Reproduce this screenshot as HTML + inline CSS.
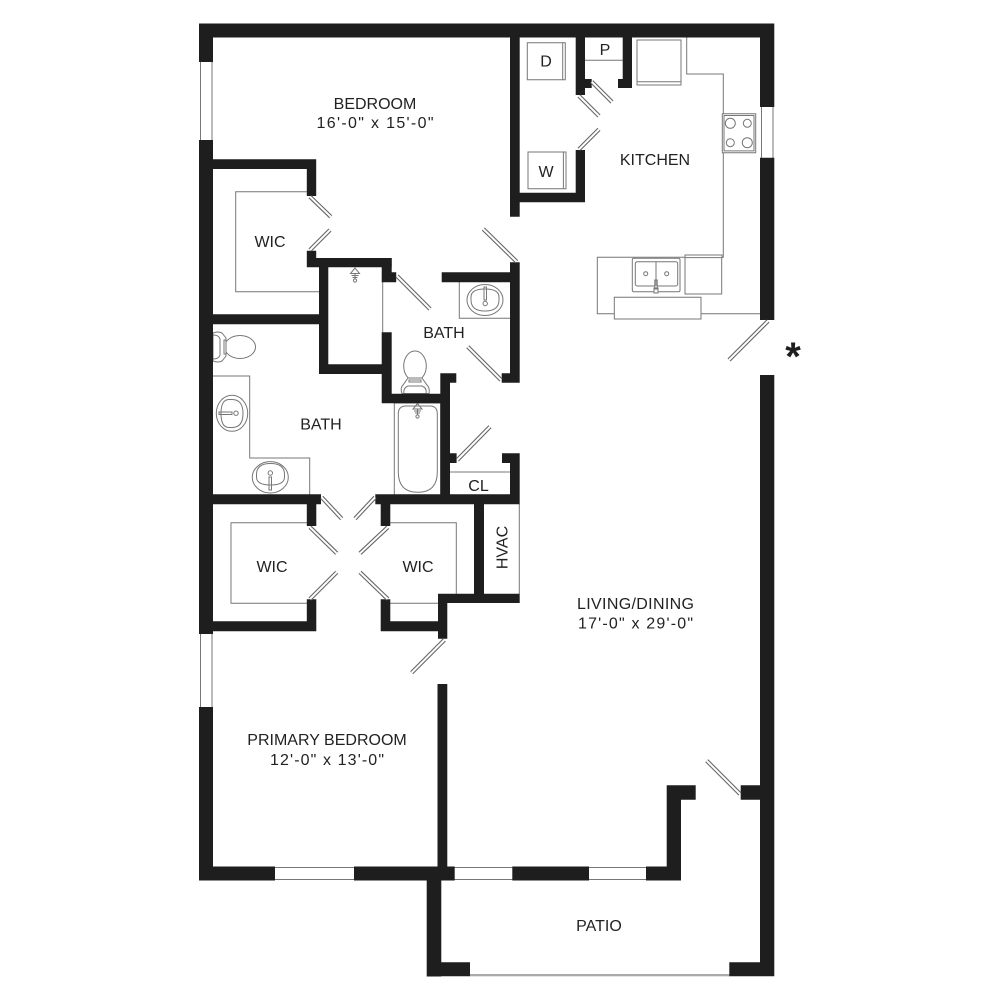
<!DOCTYPE html>
<html>
<head>
<meta charset="utf-8">
<style>
html,body{margin:0;padding:0;background:#fff}
svg{display:block}
text{font-family:"Liberation Sans",sans-serif;font-size:16px;fill:#222;text-anchor:middle}
.g{fill:none;stroke:#777;stroke-width:1}
.f{fill:#fff;stroke:#777;stroke-width:1}
</style>
</head>
<body>
<svg width="1000" height="1000" viewBox="0 0 1000 1000" xmlns="http://www.w3.org/2000/svg">
<defs>
<path id="doors" fill="none" d="M591.7 81.7L612 102M579 96L599 116M599 129.3L579 149.3M768 321L729 360M483.3 229L516.7 261.7M310 196.7L330.7 216.7M330 230L310 250M397 276L430 309M467.7 346.7L501 380M490 426.7L457.3 460M321.7 497.3L341.7 518.7M375 497.3L355 518.7M310 527.3L336.7 553.3M387.7 527.3L360 553.3M336.7 572.3L310 599M360 572.3L387.7 599M444.3 640L411.7 672.7M706.7 760.7L740 794"/>
</defs>
<rect width="1000" height="1000" fill="#fff"/>

<path class="g" d="M686.7 37V74H723.3V257.3H597.3V313.7H614.3M701 313.7H760M585 60.3H622.7M307 191.7H235.7V291.7H319M382.7 282V332.3M459.3 282V318.3H510M213 376H249.7V458H309.7V495M450 472H510M307 522.7H231V603.3H307M390.3 522.7H456.3V593.7M390 603.3H438M519.3 504V594M394.3 403H440.7V495H394.3ZM398.3 414Q398.3 406 406 406H430Q437.3 406 437.3 414V472Q437.3 492.3 417.8 492.3Q398.3 492.3 398.3 472Z"/>

<path class="f" d="M637 40H681V85H637ZM637 81.7H681M527.3 42.7H565.3V79.7H527.3ZM562.7 42.7V79.7M528 152H566V188.7H528ZM563.4 152V188.7M722.3 113.7H755.7V152.7H722.3ZM724 115.5H754V150.9H724ZM614.3 297.3H701V319H614.3ZM685 255H722V257.6H685ZM685 257.6H721.7V294H685Z"/>
<circle class="f" cx="730.3" cy="123.3" r="5"/>
<circle class="f" cx="747.3" cy="123.3" r="4"/>
<circle class="f" cx="730.3" cy="142.7" r="4"/>
<circle class="f" cx="747.3" cy="142.7" r="5"/>
<rect class="f" x="632.3" y="258.3" width="47.7" height="33.4" rx="1.5"/>
<rect class="f" x="635.3" y="261.7" width="42.4" height="24.3" rx="2"/>
<circle class="f" cx="645.7" cy="273.7" r="2"/>
<circle class="f" cx="666.7" cy="273.7" r="2"/>
<path class="f" d="M656 261.7V286M654.8 280H657.2V289H654.8ZM654 288H658V293H654Z"/>

<path class="g" d="M355 268L350.5 273.5H359.5ZM351.5 275.5H358.5M352.5 277.5H357.5M355 273.5V279.5M417.5 403.5L413 409H422ZM414 411H421M415 413H420M417.5 409V415"/>
<circle class="g" cx="355" cy="280.5" r="1.6"/>
<circle class="g" cx="417.5" cy="416.5" r="1.6"/>

<ellipse class="f" cx="485" cy="300" rx="18" ry="15.5"/>
<path class="g" d="M471 297Q471 289 485 289Q499 289 499 297V300Q499 311 485 311Q471 311 471 300ZM484 287H486.5V300H484Z"/>
<circle class="f" cx="485.2" cy="303.5" r="2.2"/>

<ellipse class="f" cx="232" cy="413.3" rx="15.7" ry="18"/>
<path class="g" d="M229 399.5Q221 399.5 221 413.5Q221 427.5 229 427.5H232Q243 427.5 243 413.5Q243 399.5 232 399.5ZM219 412H232V414.5H219Z"/>
<circle class="f" cx="236" cy="413.2" r="2.2"/>

<ellipse class="f" cx="270.3" cy="477.3" rx="18" ry="15.7"/>
<path class="g" d="M256.5 474.5Q256.5 463.5 270.5 463.5Q284.5 463.5 284.5 474.5V477Q284.5 485 270.5 485Q256.5 485 256.5 477ZM269 477H271.5V490H269Z"/>
<circle class="f" cx="270.3" cy="473" r="2.2"/>

<ellipse class="f" cx="415" cy="366" rx="11.3" ry="15"/>
<path class="f" d="M402 393.5Q400 388 403 385L408 378H422L427 385Q430 388 429 393.5Z"/>
<path class="g" d="M404 393Q403 388 408 386H422Q427 388 426 393M409 380H421V382H409Z"/>

<ellipse class="f" cx="240" cy="347" rx="15.5" ry="11.5"/>
<path class="f" d="M213 333Q218 331 222 333L226 338V356L222 361Q218 363 213 361Z"/>
<path class="g" d="M213 335Q219 335 220 339V355Q219 359 213 359M224 340H226V354H224Z"/>

<path fill="#fff" stroke="#777" d="M200.5 60H212V142H200.5ZM200.5 632H212V709H200.5ZM273 867.5H356V879.5H273ZM453 867.5H514V879.5H453ZM587 867.5H648V879.5H587ZM761.5 105H773V159H761.5Z"/>
<rect x="470" y="974" width="260" height="2.3" fill="#aaa"/>

<path fill="#1e1e1e" fill-rule="nonzero" d="M199 23.5h575.3v14h-575.3z M199 23.5h14v38.5h-14z M199 140h14v494h-14z M199 707h14v173.5h-14z M199 866.5h76v14h-76z M354 866.5h100.7v14h-100.7z M512.3 866.5h76.7v14h-76.7z M646 866.5h35v14h-35z M666.7 785.3h14.3v95h-14.3z M666.7 785.3h29v14.4h-29z M740.7 785.3h20v14.4h-20z M760 23.5h14.3v83.5h-14.3z M760 157.7h14.3v162.3h-14.3z M760 375h14.3v601.3h-14.3z M426.7 866.5h14.6v110h-14.6z M426.7 962.3h43.3v14h-43.3z M729.3 962.3h45v14h-45z M510 37h9.7v179.7h-9.7z M510 192.7h75v9.6h-75z M575.7 150h9.3v52.3h-9.3z M575.7 37h9.3v58h-9.3z M575.7 79h16v9h-16z M622.7 37h9.3v51h-9.3z M618 79h14v9h-14z M213 159.3h103v9.7h-103z M306.8 159.3h9.4v36.7h-9.4z M306.8 250.7h9.4v16.6h-9.4z M306.8 258h85v9.3h-85z M381.7 258h10v24h-10z M381.7 272.3h14.5v10h-14.5z M319 258h9.3v116h-9.3z M213 314.3h106v10h-106z M319 364.3h65v9.7h-65z M381.7 332.3h10v71h-10z M381.7 393.7h68.3v9.6h-68.3z M440.3 373.3h9.7v131h-9.7z M440.3 373.3h16v9.4h-16z M440.3 453.3h16.3v9.7h-16.3z M510 453.3h9.7v51h-9.7z M502 453.3h10v9.7h-10z M510 262.3h9.7v120.4h-9.7z M501.7 373.3h10v9.4h-10z M441.7 272.3h70v10h-70z M213 494.3h108v10h-108z M375.3 494.3h144.4v10h-144.4z M306.8 494.3h9.5v31.7h-9.5z M380.7 494.3h9.6v31.7h-9.6z M213 621.3h103.3v10h-103.3z M306.8 599.3h9.5v32h-9.5z M380.7 599.3h9.6v32h-9.6z M380.7 621.3h66.6v10h-66.6z M438 593.7h9.3v45h-9.3z M438 593.7h81.7v9.3h-81.7z M474 504h10v99h-10z M437.5 684h9.8v196h-9.8z"/>

<use href="#doors" stroke="#666" stroke-width="4.2"/>
<use href="#doors" stroke="#fff" stroke-width="2"/>

<text x="375" y="109">BEDROOM</text>
<text x="375" y="128" textLength="117" lengthAdjust="spacing">16'-0" x 15'-0"</text>
<text x="655" y="165">KITCHEN</text>
<text x="605" y="55">P</text>
<text x="546" y="66.5">D</text>
<text x="546" y="177">W</text>
<text x="270" y="247">WIC</text>
<text x="444" y="338">BATH</text>
<text x="321" y="429.5">BATH</text>
<text x="478.5" y="491">CL</text>
<text x="272" y="572">WIC</text>
<text x="418" y="572">WIC</text>
<text transform="translate(507.5,547.5) rotate(-90)">HVAC</text>
<text x="635.5" y="609" textLength="117" lengthAdjust="spacing">LIVING/DINING</text>
<text x="635.5" y="628.5" textLength="115" lengthAdjust="spacing">17'-0" x 29'-0"</text>
<text x="327" y="745">PRIMARY BEDROOM</text>
<text x="327" y="765" textLength="114" lengthAdjust="spacing">12'-0" x 13'-0"</text>
<text x="599" y="931">PATIO</text>
<text x="793" y="370" style="font-size:40px;font-weight:bold;fill:#1e1e1e">*</text>
</svg>
</body>
</html>
